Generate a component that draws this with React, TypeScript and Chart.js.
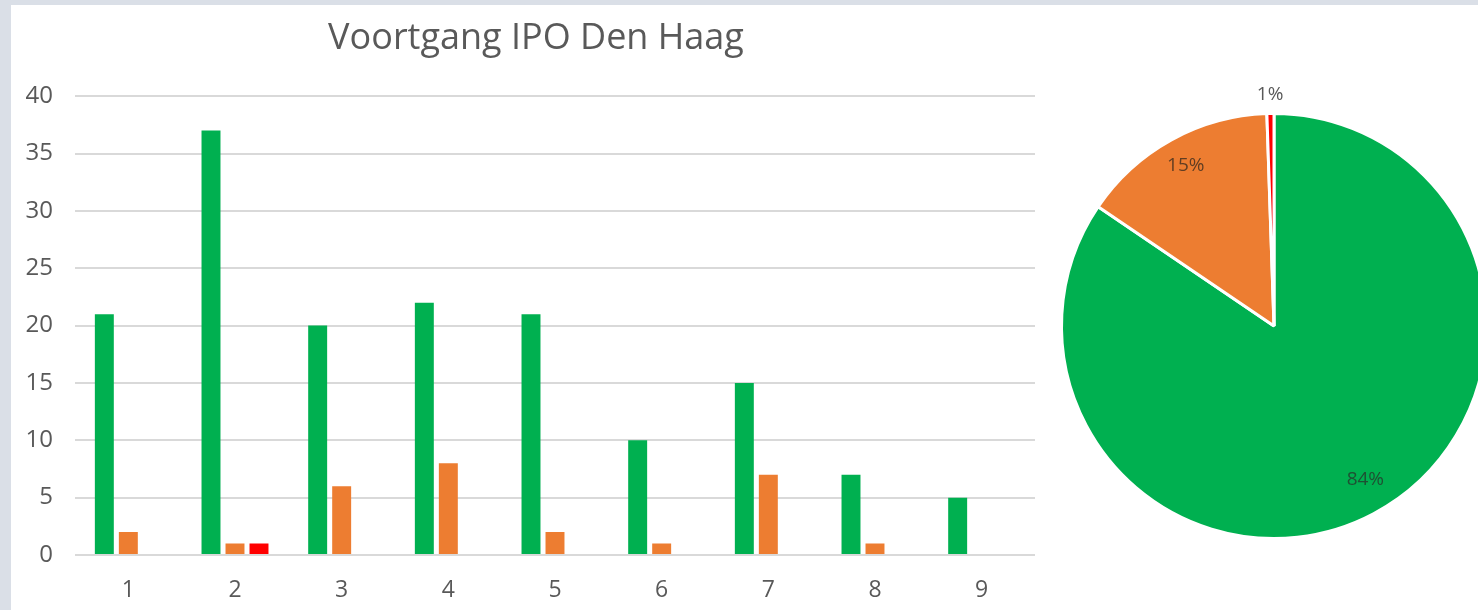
import React, { useEffect, useRef } from "react";
import { Chart, registerables } from "chart.js";

Chart.register(...registerables);

// ---- data ----
const categories = ["1", "2", "3", "4", "5", "6", "7", "8", "9"];
const greenValues = [21, 37, 20, 22, 21, 10, 15, 7, 5];
const orangeValues = [2, 1, 6, 8, 2, 1, 7, 1, 0];
const redValues = [0, 1, 0, 0, 0, 0, 0, 0, 0];
const yMin = 0;
const yMax = 40;
const yStep = 5;
const chartTitle = "Voortgang IPO Den Haag";
const pieLabels = ["Groen", "Oranje", "Rood"];
const pieValues = [158, 28, 1];

// ---- styles ----
const GREEN = "#00b050";
const ORANGE = "#ed7d31";
const RED = "#ff0000";
const FONT = "'Open Sans', sans-serif";
const TEXT = "#595959";

const pieLabelPlugin = {
  id: "pieLabels",
  afterDatasetsDraw(chart: any) {
    const ctx = chart.ctx as CanvasRenderingContext2D;
    const meta = chart.getDatasetMeta(0);
    const data = chart.data.datasets[0].data as number[];
    const total = data.reduce((a, b) => a + b, 0);
    const radiusFactor = [0.84, 0.86, 1.09];
    const angleShift = [-0.05, 0, 0];
    const colors = ["rgba(40,48,42,0.75)", "rgba(50,40,30,0.75)", "#595959"];
    ctx.save();
    ctx.font = `19px ${FONT}`;
    ctx.textAlign = "center";
    ctx.textBaseline = "middle";
    meta.data.forEach((arc: any, i: number) => {
      const p = arc.getProps(["x", "y", "startAngle", "endAngle", "outerRadius"], true);
      const mid = (p.startAngle + p.endAngle) / 2 + angleShift[i];
      const d = p.outerRadius * radiusFactor[i];
      const tx = p.x + Math.cos(mid) * d;
      const ty = p.y + Math.sin(mid) * d;
      ctx.fillStyle = colors[i];
      ctx.fillText(`${Math.round((data[i] / total) * 100)}%`, tx, ty);
    });
    ctx.restore();
  },
};

export default function App() {
  const barRef = useRef<HTMLCanvasElement>(null);
  const pieRef = useRef<HTMLCanvasElement>(null);

  useEffect(() => {
    const bar = new Chart(barRef.current!, {
      type: "bar",
      data: {
        labels: categories,
        datasets: [
          { label: "Groen", data: greenValues, backgroundColor: GREEN },
          { label: "Oranje", data: orangeValues, backgroundColor: ORANGE },
          { label: "Rood", data: redValues, backgroundColor: RED },
        ],
      },
      options: {
        responsive: false,
        animation: false,
        devicePixelRatio: 1,
        layout: { padding: 0 },
        datasets: {
          bar: { categoryPercentage: 0.675, barPercentage: 0.79 },
        },
        plugins: {
          legend: { display: false },
          tooltip: { enabled: false },
          title: {
            display: true,
            text: chartTitle,
            color: TEXT,
            font: { family: FONT, size: 36, weight: "normal" },
            padding: { top: 12, bottom: 36 },
          },
        },
        scales: {
          x: {
            grid: { display: false, drawTicks: false },
            border: { display: false },
            ticks: {
              color: TEXT,
              font: { family: FONT, size: 23 },
              padding: 22,
            },
            afterFit: (s: any) => {
              s.height = 55;
            },
          },
          y: {
            min: yMin,
            max: yMax,
            ticks: {
              stepSize: yStep,
              color: TEXT,
              font: { family: FONT, size: 24 },
              padding: 22,
            },
            grid: { color: "#d9d9d9", lineWidth: 2, drawTicks: false },
            border: { display: false },
            afterFit: (s: any) => {
              s.width = 64;
            },
          },
          spacer: {
            type: "linear",
            position: "right",
            display: true,
            grid: { display: false, drawTicks: false },
            border: { display: false },
            ticks: { display: false },
            afterFit: (s: any) => {
              s.width = 26;
            },
          },
        },
      },
    });

    const pie = new Chart(pieRef.current!, {
      type: "pie",
      data: {
        labels: pieLabels,
        datasets: [
          {
            data: pieValues,
            backgroundColor: [GREEN, ORANGE, RED],
            borderColor: "#ffffff",
            borderWidth: 3,
          },
        ],
      },
      options: {
        responsive: false,
        animation: false,
        devicePixelRatio: 1,
        layout: { padding: 36 },
        plugins: {
          legend: { display: false },
          tooltip: { enabled: false },
        },
      },
      plugins: [pieLabelPlugin],
    });

    return () => {
      bar.destroy();
      pie.destroy();
    };
  }, []);

  return (
    <div
      style={{
        position: "absolute",
        left: 0,
        top: 0,
        width: 1478,
        height: 610,
        overflow: "hidden",
        background: "#dadfe7",
      }}
    >
      <div
        style={{
          position: "absolute",
          left: 11,
          top: 5,
          right: 0,
          bottom: 0,
          background: "#ffffff",
        }}
      />
      <canvas
        ref={barRef}
        width={1050}
        height={605}
        style={{ position: "absolute", left: 11, top: 5, width: 1050, height: 605 }}
      />
      <canvas
        ref={pieRef}
        width={500}
        height={500}
        style={{ position: "absolute", left: 1024, top: 76, width: 500, height: 500 }}
      />
    </div>
  );
}
